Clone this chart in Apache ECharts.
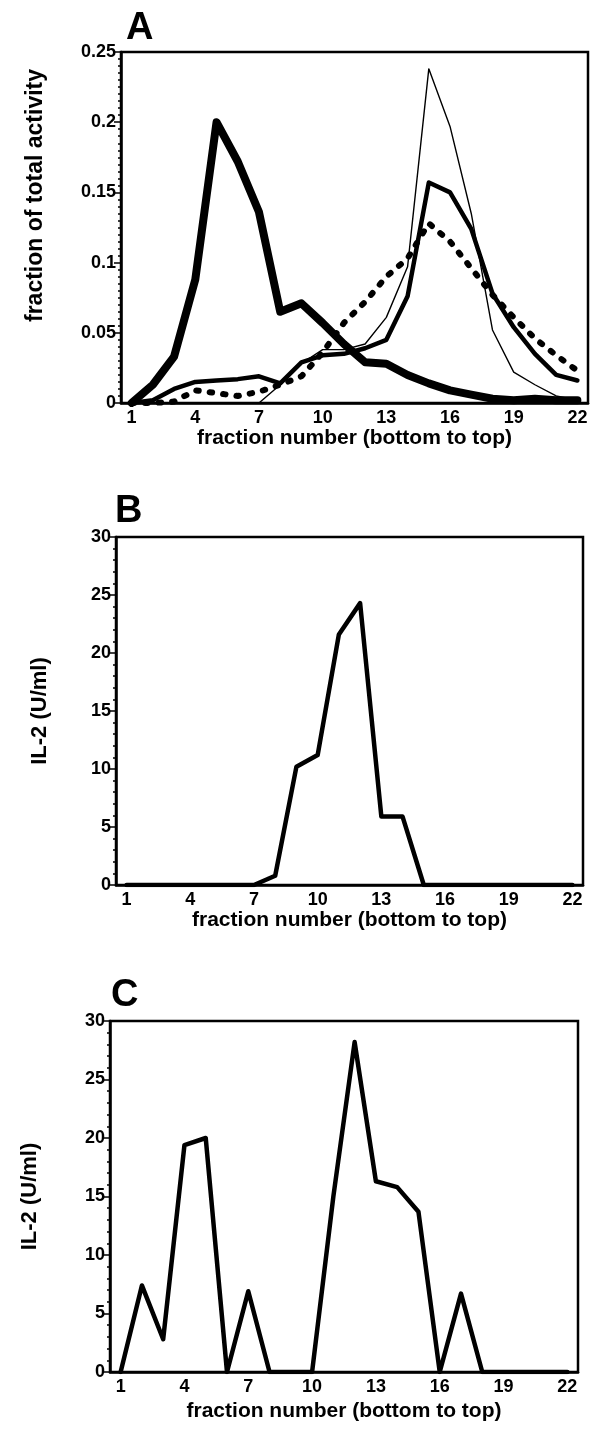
<!DOCTYPE html>
<html>
<head>
<meta charset="utf-8">
<script src="https://cdn.jsdelivr.net/npm/echarts@6/dist/echarts.min.js"></script>
<style>
  html, body { margin: 0; padding: 0; background: #fff; }
  #chart { width: 592px; height: 1438px; }
</style>
</head>
<body>
<div id="chart"></div>
<script>
// Fraction numbers along the gradient (bottom to top)
const fractions = ['1','2','3','4','5','6','7','8','9','10','11','12','13','14','15','16','17','18','19','20','21','22'];

// Panel A: fraction of total activity per fraction
const activityHeavy  = [0, 0.013, 0.033, 0.088, 0.2, 0.172, 0.136, 0.065, 0.071, 0.057, 0.042, 0.029, 0.028, 0.02, 0.014, 0.009, 0.006, 0.003, 0.002, 0.003, 0.002, 0.002];
const activityMedium = [0, 0.002, 0.01, 0.015, 0.016, 0.017, 0.019, 0.014, 0.029, 0.034, 0.035, 0.039, 0.045, 0.076, 0.157, 0.15, 0.124, 0.078, 0.054, 0.035, 0.02, 0.016];
const activityThin   = [0, 0, 0, 0, 0, 0, 0, 0.013, 0.028, 0.038, 0.038, 0.042, 0.061, 0.097, 0.238, 0.197, 0.135, 0.052, 0.022, 0.013, 0.005, 0.002];
const activityDotted = [0, 0, 0.001, 0.009, 0.007, 0.005, 0.008, 0.013, 0.019, 0.036, 0.057, 0.072, 0.09, 0.103, 0.128, 0.115, 0.096, 0.077, 0.061, 0.046, 0.034, 0.023];

// Panels B and C: IL-2 (U/ml) per fraction
const il2B = [0, 0, 0, 0, 0, 0, 0, 0.8, 10.2, 11.2, 21.6, 24.3, 5.9, 5.9, 0, 0, 0, 0, 0, 0, 0, 0];
const il2C = [0, 7.4, 2.8, 19.4, 20, 0, 6.9, 0, 0, 0, 15, 28.2, 16.3, 15.8, 13.7, 0, 6.7, 0, 0, 0, 0, 0];

const FONT = '"Liberation Sans", Arial, Helvetica, sans-serif';
const INK = '#000';

function xAxisFor(gridIndex, nameGap) {
  return {
    type: 'category',
    gridIndex: gridIndex,
    data: fractions,
    boundaryGap: true,
    name: 'fraction number (bottom to top)',
    nameLocation: 'middle',
    nameGap: nameGap,
    nameTextStyle: { color: INK, fontFamily: FONT, fontWeight: 'bold', fontSize: 21 },
    axisLine: { lineStyle: { color: INK, width: 2.5 } },
    axisTick: { interval: 0, length: 6, lineStyle: { color: INK, width: 2 } },
    axisLabel: { interval: 2, color: INK, fontFamily: FONT, fontWeight: 'bold', fontSize: 18, margin: 6 },
    splitLine: { show: false }
  };
}

function yAxisFor(gridIndex, max, interval, minorSplits, name, nameGap, nameSize, shiftUp) {
  return {
    type: 'value',
    gridIndex: gridIndex,
    min: 0,
    max: max,
    interval: interval,
    name: name,
    nameLocation: 'middle',
    nameGap: nameGap,
    nameRotate: 90,
    nameTextStyle: {
      color: INK, fontFamily: FONT, fontWeight: 'bold', fontSize: nameSize,
      padding: [0, 0, 0, shiftUp]
    },
    axisLine: { show: true, lineStyle: { color: INK, width: 2.5 } },
    axisTick: { show: true, length: 7, lineStyle: { color: INK, width: 1.5 } },
    minorTick: { show: true, splitNumber: minorSplits, length: 3, lineStyle: { color: INK, width: 1.5 } },
    axisLabel: { color: INK, fontFamily: FONT, fontWeight: 'bold', fontSize: 18, margin: 5 },
    splitLine: { show: false }
  };
}

function lineSeries(xi, data, width, type) {
  return {
    type: 'line',
    xAxisIndex: xi,
    yAxisIndex: xi,
    data: data,
    symbol: 'none',
    lineStyle: { color: INK, width: width, type: type || 'solid', cap: 'round', join: 'round' },
    animation: false
  };
}

const chart = echarts.init(document.getElementById('chart'), null, { renderer: 'canvas' });

const letterStyle = { color: INK, fontFamily: FONT, fontWeight: 900, fontSize: 38 };

chart.setOption({
  backgroundColor: '#fff',
  animation: false,
  title: [
    { text: 'A', left: 121, top: 5, textStyle: letterStyle },
    { text: 'B', left: 110, top: 488, textStyle: letterStyle },
    { text: 'C', left: 106, top: 972, textStyle: letterStyle }
  ],
  grid: [
    { left: 121, top: 52, width: 467, height: 351, show: true, borderColor: INK, borderWidth: 2.5, backgroundColor: 'transparent' },
    { left: 116, top: 537, width: 467, height: 348, show: true, borderColor: INK, borderWidth: 2.5, backgroundColor: 'transparent' },
    { left: 110, top: 1021, width: 468, height: 351, show: true, borderColor: INK, borderWidth: 2.5, backgroundColor: 'transparent' }
  ],
  xAxis: [xAxisFor(0, 24), xAxisFor(1, 23), xAxisFor(2, 29)],
  yAxis: [
    yAxisFor(0, 0.25, 0.05, 10, 'fraction of total activity', 74, 23, 64),
    yAxisFor(1, 30, 5, 5, 'IL-2 (U/ml)', 65, 22, 0),
    yAxisFor(2, 30, 5, 5, 'IL-2 (U/ml)', 69, 22, 0)
  ],
  series: [
    lineSeries(0, activityThin, 1.4),
    lineSeries(0, activityDotted, 6, [2.5, 11]),
    lineSeries(0, activityMedium, 4.5),
    lineSeries(0, activityHeavy, 8),
    lineSeries(1, il2B, 4.5),
    lineSeries(2, il2C, 4.5)
  ]
});
</script>
</body>
</html>
